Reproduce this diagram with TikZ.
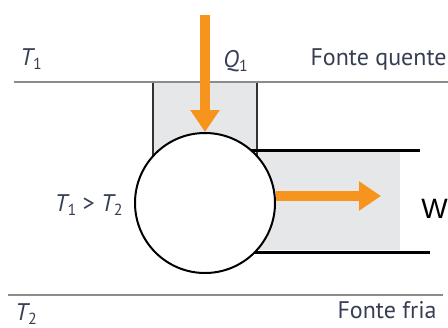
\documentclass[tikz,border=0pt]{standalone}
\usepackage{fontspec}
\setmainfont{PT Sans}
\newfontfamily\wfont{Liberation Sans}
\usetikzlibrary{arrows.meta,positioning,backgrounds}
\definecolor{heatorange}{HTML}{F7941D}
\definecolor{labelblue}{HTML}{353E52}
\definecolor{boxgray}{HTML}{E6E7E9}
\definecolor{sourcegray}{HTML}{8C8C8C}
\newcommand{\tsub}[1]{{\itshape T}\raisebox{-0.35ex}{\footnotesize #1}}
\tikzset{
  source/.style={draw=sourcegray,line width=1pt},
  wall/.style={draw=black!80,line width=1pt},
  pipe/.style={draw=black,line width=1.5pt},
  engine/.style={circle,draw,line width=1pt,fill=white,minimum size=70pt,inner sep=0pt},
  lbl/.style={font=\fontsize{12}{14}\selectfont,text=labelblue,inner sep=0pt},
  heat/.style={heatorange,line width=5pt,-{Triangle[length=11pt,width=14pt]}},
}
\begin{document}
\begin{tikzpicture}[x=0.5pt,y=-0.5pt]
  \useasboundingbox (0,0) rectangle (448,327);
  % engine
  \node[engine] (eng) at (205,203) {};
  % reservoirs and walls, behind the engine
  \begin{scope}[on background layer]
    \fill[boxgray] (153,82) rectangle (257,180);
    \fill[boxgray] (240,152) rectangle (400,250);
    \draw[wall] (153,82) -- (153,180);
    \draw[wall] (257,82) -- (257,180);
    \draw[pipe] (240,150) -- (420,150);
    \draw[pipe] (240,252) -- (430,252);
  \end{scope}
  \draw[source] (14,82) -- (448,82);
  \draw[source] (8,295) -- (443,295);
  % labels
  \node[lbl,anchor=base west] (t1) at (20,65) {\tsub{1}};
  \node[lbl,anchor=base west] (q1) at (223,67) {{\itshape Q}\raisebox{-0.35ex}{\footnotesize 1}};
  \node[lbl,anchor=base east] (hot) at (447,65) {Fonte quente};
  \node[lbl,anchor=base east] (cmp) at (123,211) {\tsub{1} > \tsub{2}};
  \node[lbl,anchor=base west] (t2) at (15,320) {\tsub{2}};
  \node[lbl,anchor=base east] (cold) at (437,318) {Fonte fria};
  \node[font=\wfont\fontsize{14}{16}\selectfont,anchor=base west,inner sep=0pt] (work) at (421,218) {W};
  % heat and work arrows
  \coordinate (qin) at (205,15);
  \coordinate (wout) at (381,196);
  \draw[heat] (qin) -- (eng.north);
  \draw[heat] (eng.east |- wout) -- (wout);
\end{tikzpicture}
\end{document}
